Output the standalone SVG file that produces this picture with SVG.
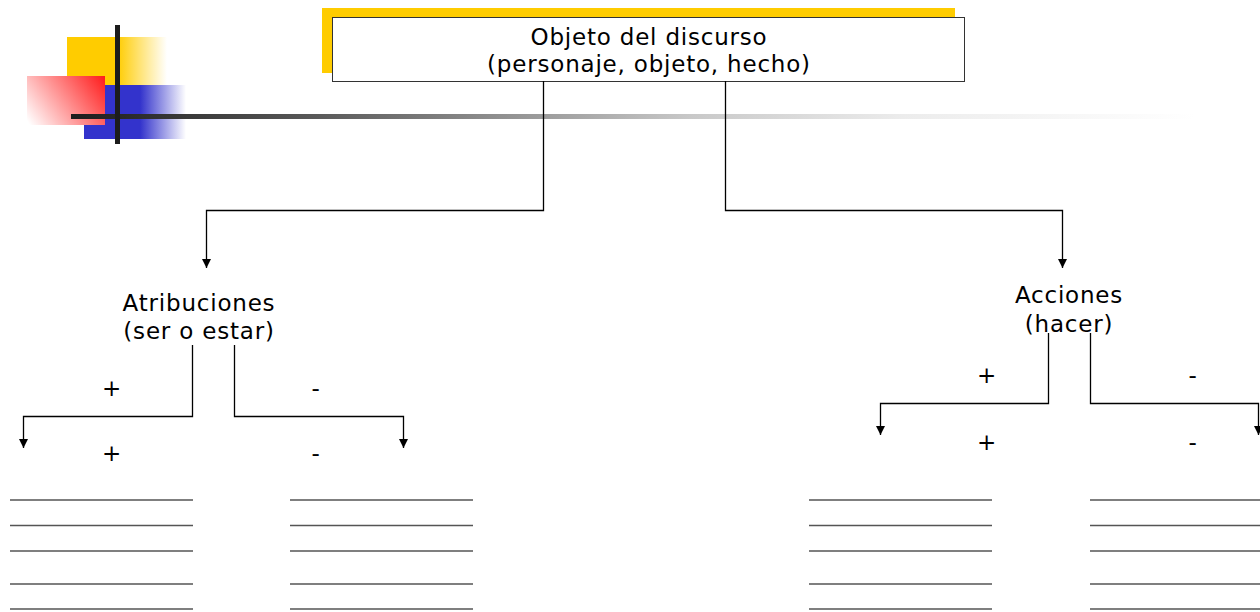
<svg xmlns="http://www.w3.org/2000/svg" width="1260" height="612" viewBox="0 0 1260 612">
<defs>
<linearGradient id="gy" x1="67" y1="0" x2="167" y2="0" gradientUnits="userSpaceOnUse"><stop offset="0" stop-color="#ffcc00"/><stop offset="0.5" stop-color="#ffcc00"/><stop offset="1" stop-color="#ffcc00" stop-opacity="0"/></linearGradient>
<linearGradient id="gb" x1="84" y1="0" x2="186" y2="0" gradientUnits="userSpaceOnUse"><stop offset="0" stop-color="#3333cc"/><stop offset="0.55" stop-color="#3333cc"/><stop offset="1" stop-color="#3333cc" stop-opacity="0"/></linearGradient>
<linearGradient id="gr" x1="32" y1="128" x2="105" y2="76" gradientUnits="userSpaceOnUse"><stop offset="0" stop-color="#ffffff"/><stop offset="1" stop-color="#ff1a1a"/></linearGradient>
<linearGradient id="gh" x1="71" y1="0" x2="1195" y2="0" gradientUnits="userSpaceOnUse"><stop offset="0" stop-color="#1c1c1c"/><stop offset="0.22" stop-color="#5a5a5a"/><stop offset="0.55" stop-color="#c8c8c8"/><stop offset="0.74" stop-color="#ececec"/><stop offset="1" stop-color="#ffffff"/></linearGradient>
<marker id="ah" viewBox="0 0 10 10" refX="10" refY="5" markerWidth="9" markerHeight="9" markerUnits="userSpaceOnUse" orient="auto"><path d="M0,0 L10,5 L0,10 z" fill="#000"/></marker>
</defs>
<style>
text{font-family:"DejaVu Sans","Verdana",sans-serif;font-size:23px;letter-spacing:0.8px;fill:#000;text-anchor:middle}
.c{fill:none;stroke:#000;stroke-width:1.3}
.ln{stroke:#555;stroke-width:1.5}
</style>
<rect width="1260" height="612" fill="#fff"/>
<g id="logo">
<rect x="67" y="37" width="100" height="48" fill="url(#gy)"/>
<rect x="84" y="85" width="102" height="54" fill="url(#gb)"/>
<rect x="27" y="76" width="78" height="49" fill="url(#gr)"/>
<rect x="71" y="114" width="1124" height="5" fill="url(#gh)"/>
<rect x="115" y="25" width="5" height="119" fill="#1c1c1c"/>
</g>
<g id="objeto">
<rect x="322" y="8" width="633" height="65" fill="#ffcc00"/>
<rect x="332.5" y="17.5" width="632" height="64" fill="#fff" stroke="#333" stroke-width="1"/>
<text x="649" y="45">Objeto del discurso</text>
<text x="649" y="72">(personaje, objeto, hecho)</text>
</g>
<g id="atribuciones">
<text x="199" y="311">Atribuciones</text>
<text x="199" y="339">(ser o estar)</text>
</g>
<g id="acciones">
<text x="1069" y="303">Acciones</text>
<text x="1069" y="332">(hacer)</text>
</g>
<g id="signs">
<text x="112" y="396">+</text>
<text x="316" y="396">-</text>
<text x="112" y="461">+</text>
<text x="316" y="461">-</text>
<text x="987" y="383">+</text>
<text x="1193" y="383">-</text>
<text x="987" y="450">+</text>
<text x="1193" y="450">-</text>
</g>
<g id="connectors">
<path class="c" d="M543.5,81 V210.5 H206.5 V268" marker-end="url(#ah)"/>
<path class="c" d="M725.5,81 V210.5 H1062.5 V268" marker-end="url(#ah)"/>
<path class="c" d="M192.5,345 V416.5 H23.5 V448" marker-end="url(#ah)"/>
<path class="c" d="M234.5,345 V416.5 H403.5 V448" marker-end="url(#ah)"/>
<path class="c" d="M1048.5,333 V403.5 H880.5 V435" marker-end="url(#ah)"/>
<path class="c" d="M1090.5,333 V403.5 H1258.5 V435" marker-end="url(#ah)"/>
</g>
<g id="lines">
<path class="ln" d="M10,500H193M10,525.5H193M10,551H193M10,584H193M10,609H193"/>
<path class="ln" d="M290,500H473M290,525.5H473M290,551H473M290,584H473M290,609H473"/>
<path class="ln" d="M809,500H992M809,525.5H992M809,551H992M809,584H992M809,609H992"/>
<path class="ln" d="M1090,500H1260M1090,525.5H1260M1090,551H1260M1090,584H1260M1090,609H1260"/>
</g>
</svg>
